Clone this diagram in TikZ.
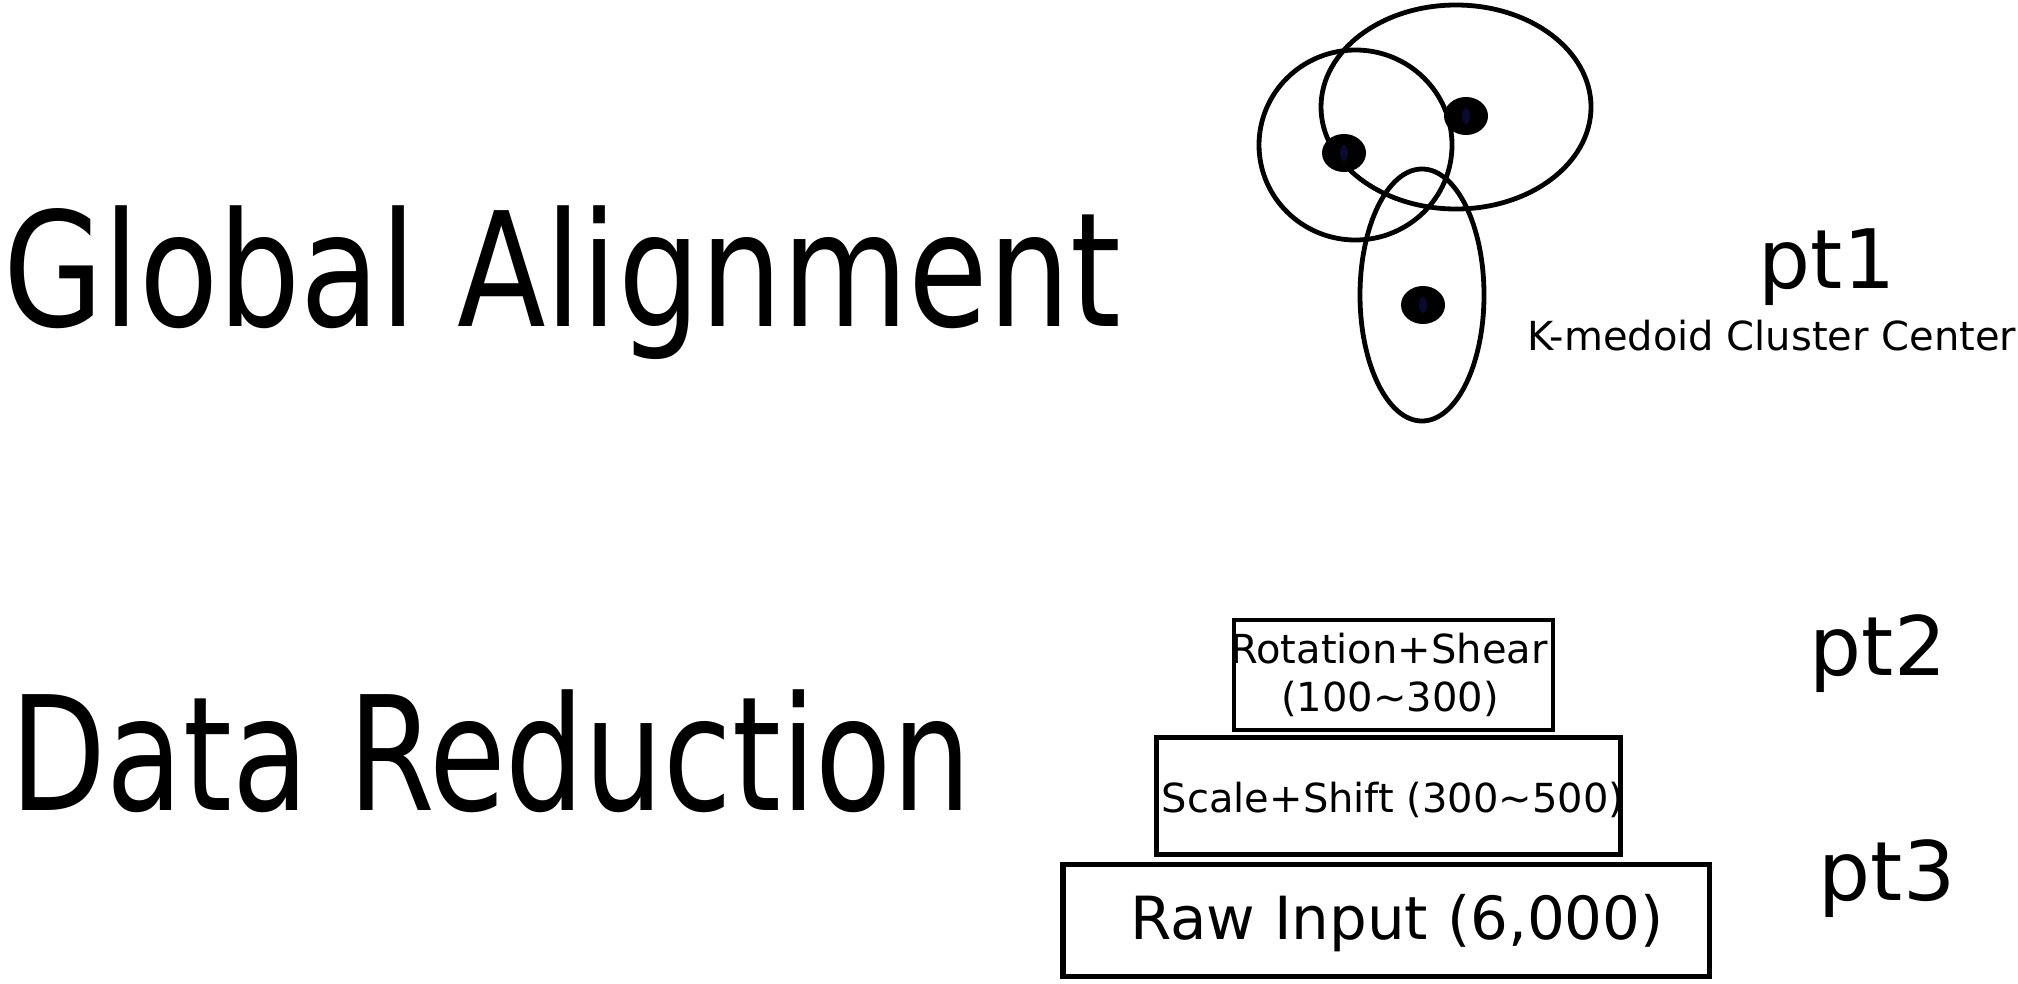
\documentclass[tikz,border=0pt]{standalone}
\usepackage{fontspec}
\setmainfont{DejaVu Sans}
\usepackage{graphicx}
\definecolor{dotcore}{HTML}{0A0A30}
\tikzset{
  title/.style={anchor=base, inner sep=0pt, font=\fontsize{159}{190}\selectfont},
  ptlabel/.style={anchor=base, inner sep=0pt, font=\fontsize{82}{98}\selectfont},
  boxtext/.style={anchor=base, inner sep=0pt, font=\fontsize{40}{48}\selectfont},
  layerbox/.style={draw, rectangle, inner sep=0pt},
  cluster/.style={draw, line width=4.8pt},
  medoid/.style={fill=black}
}
\begin{document}
\begin{tikzpicture}[x=1pt, y=-1pt]
\useasboundingbox (0,0) rectangle (2018,983);
% titles
\node[title] (ga) at (562,326) {\resizebox{1118pt}{\height}{Global Alignment}};
\node[title] (dr) at (491,810) {\resizebox{960pt}{\height}{Data Reduction}};
% clusters
\draw[cluster] (1456,107) ellipse [x radius=135, y radius=102];
\draw[cluster] (1355.5,145) ellipse [x radius=96.5, y radius=95];
\draw[cluster] (1422,295) ellipse [x radius=62, y radius=126];
\foreach \n/\p in {m1/{1344,153}, m2/{1466,116}, m3/{1423,305}}{
  \fill[medoid] (\p) ellipse [x radius=22, y radius=19];
  \fill[dotcore] (\p) ellipse [x radius=4, y radius=8];
  \coordinate (\n) at (\p);
}
\node[ptlabel] (pt1) at (1827,288) {pt1};
\node[anchor=base, inner sep=0pt, font=\fontsize{40}{48}\selectfont] (km) at (1772,350) {K-medoid Cluster Center};
% pyramid
\node[layerbox, line width=4pt, minimum width=319pt, minimum height=110pt] (b1) at (1393.5,675) {};
\node[layerbox, line width=5pt, minimum width=464pt, minimum height=117pt] (b2) at (1388.5,796) {};
\node[layerbox, line width=5.5pt, minimum width=646.5pt, minimum height=112pt] (b3) at (1386,920.5) {};
\node[boxtext] (t1a) at (1389,663) {Rotation+Shear};
\node[boxtext] (t1b) at (1390,711) {(100\textasciitilde300)};
\node[boxtext] (t2) at (1393,812) {Scale+Shift (300\textasciitilde500)};
\node[anchor=base, inner sep=0pt, font=\fontsize{59.5}{71}\selectfont] (t3) at (1397,939) {Raw Input (6,000)};
\node[ptlabel] (pt2) at (1878,675) {pt2};
\node[ptlabel] (pt3) at (1887,900) {pt3};
\end{tikzpicture}
\end{document}
